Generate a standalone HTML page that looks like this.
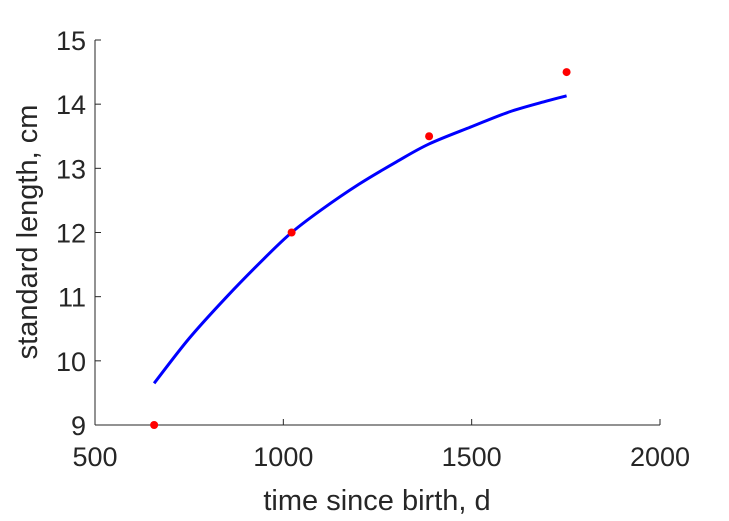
<!DOCTYPE html>
<html><head><meta charset="utf-8"><style>
html,body{margin:0;padding:0;background:#fff;}
svg{display:block;font-family:"Liberation Sans",Arial,sans-serif;}
</style></head><body>
<svg id="chart" width="729" height="521" viewBox="0 0 729 521">
<rect width="729" height="521" fill="#fff"/>
<g id="axes"></g>
<g id="series"></g>
<text x="377" y="510" text-anchor="middle" font-size="29" fill="#262626">time since birth, d</text>
<text transform="translate(37,232) rotate(-90)" text-anchor="middle" font-size="29" fill="#262626">standard length, cm</text>
</svg>
<script>
const xTicks=[500,1000,1500,2000];
const yTicks=[9,10,11,12,13,14,15];
const obsAge=[657,1022,1387,1752];
const obsLength=[9,12,13.5,14.5];
const fitAge=[657,750,850,950,1022,1100,1200,1300,1387,1500,1600,1700,1752];
const fitLength=[9.65,10.35,11.0,11.6,12.0,12.35,12.75,13.1,13.38,13.65,13.88,14.05,14.13];
const X0=95,X1=660,Y0=425,Y1=40;
const xs=v=>X0+(v-500)/1500*(X1-X0);
const ys=v=>Y0-(v-9)/6*(Y0-Y1);
const NS="http://www.w3.org/2000/svg";
function mk(t,a,p){const e=document.createElementNS(NS,t);for(const k in a)e.setAttribute(k,a[k]);p.appendChild(e);return e;}
const ax=document.getElementById('axes'),se=document.getElementById('series');
let l=mk('line',{x1:X0,y1:Y0,x2:X1,y2:Y0,stroke:'#262626','stroke-width':1},ax);


l=mk('line',{x1:X0,y1:Y0,x2:X0,y2:Y1,stroke:'#262626','stroke-width':1},ax);


xTicks.forEach(v=>{
 const t=mk('line',{x1:xs(v),y1:Y0,x2:xs(v),y2:Y0-6,stroke:'#262626'},ax);
 
 
 const tx=mk('text',{x:xs(v),y:Y0+41,'text-anchor':'middle','font-size':27,fill:'#262626'},ax);
 tx.textContent=v;
 
 
});
yTicks.forEach(v=>{
 const t=mk('line',{x1:X0,y1:ys(v),x2:X0+6,y2:ys(v),stroke:'#262626'},ax);
 
 
 const tx=mk('text',{x:X0-9,y:ys(v)+10,'text-anchor':'end','font-size':27,fill:'#262626'},ax);
 tx.textContent=v;
 
 
});
const P=fitAge.map((a,i)=>[xs(a),ys(fitLength[i])]);
let d='M'+P[0][0]+','+P[0][1];
for(let i=0;i<P.length-1;i++){
 const p0=P[Math.max(i-1,0)],p1=P[i],p2=P[i+1],p3=P[Math.min(i+2,P.length-1)];
 const c1=[p1[0]+(p2[0]-p0[0])/6,p1[1]+(p2[1]-p0[1])/6];
 const c2=[p2[0]-(p3[0]-p1[0])/6,p2[1]-(p3[1]-p1[1])/6];
 d+=' C'+c1[0]+','+c1[1]+' '+c2[0]+','+c2[1]+' '+p2[0]+','+p2[1];
}
const pl=mk('path',{d:d,fill:'none',stroke:'#0000ff','stroke-width':3},se);


obsAge.forEach((a,i)=>{
 const c=mk('circle',{cx:xs(a),cy:ys(obsLength[i]),r:4,fill:'#ff0000'},se);
 
 
});
</script>
</body></html>
